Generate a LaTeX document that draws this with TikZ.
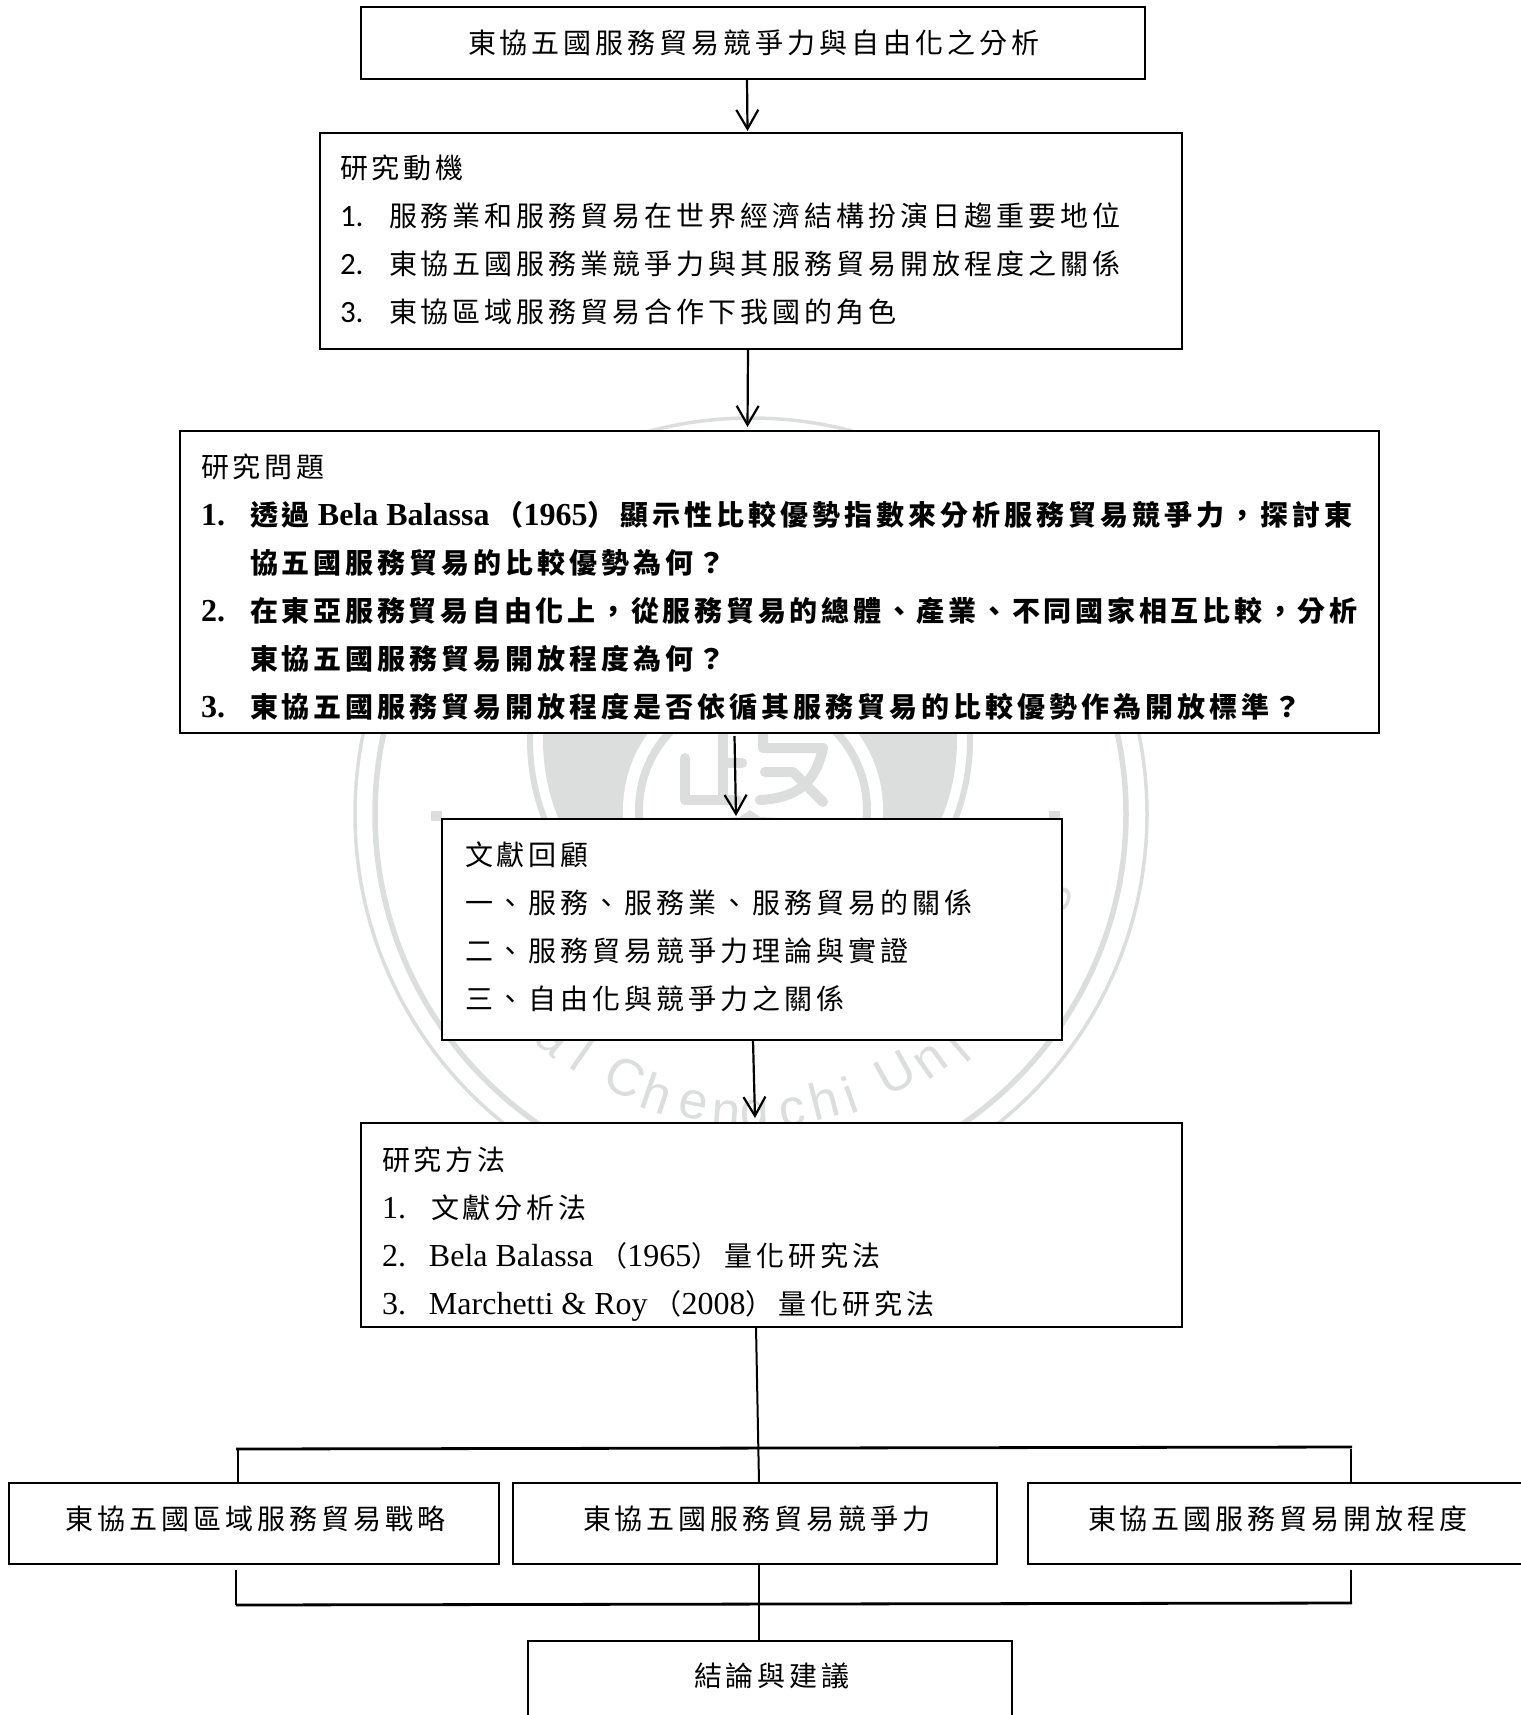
\documentclass[tikz,border=0pt]{standalone}
\usepackage{fontspec}
\usetikzlibrary{arrows.meta}
\setmainfont{Liberation Serif}
\newfontfamily\cjk[LetterSpace=14.2]{Noto Sans CJK TC}
\newfontfamily\cjkt[LetterSpace=13.4]{Noto Sans CJK TC}
\newfontfamily\car{Carlito}
\newfontfamily\wmf{Liberation Sans}
\def\cj#1{{\fontsize{28}{48}\cjk #1}}
\def\ct#1{{\fontsize{28}{48}\cjkt #1}}
\def\lp{\makebox[34pt][r]{\cj{（}}}
\def\rp{\makebox[33pt][l]{\cj{）}}}
\def\nm#1{\makebox[49pt][l]{#1}}
\def\nn#1{\makebox[47pt][l]{#1}}
\def\nc#1{\makebox[49pt][l]{\car\fontsize{31}{48}\selectfont #1}}
\newlength\bw \newlength\bl
\def\Ln#1{\hbox to\bw{\hskip\bl\rule[-15pt]{0pt}{48pt}#1\hss}}
\newcommand\boxbody[5]{\vbox to #2pt{\offinterlineskip\bw=#1pt\bl=#4pt\hsize=#1pt\kern#3pt #5\vss}}
\definecolor{wmgrey}{HTML}{DCDDDD}
\tikzset{
  box/.style={draw=black,fill=white,line width=1.5pt,inner sep=0pt,outer sep=0pt,anchor=north west,
    font=\fontsize{32}{48}\selectfont},
  arrowline/.style={line width=2.2pt,-{Straight Barb[length=19pt,width=22pt,line width=2.2pt]}},
  plainline/.style={line width=2pt},
  busline/.style={line width=2.8pt},
  wmstroke/.style={draw=wmgrey,line width=10pt,line cap=round,line join=round},
  wmtext/.style={text=wmgrey,inner sep=0pt,font=\wmf\fontsize{52}{52}\selectfont}
}
\begin{document}
\begin{tikzpicture}[x=1pt,y=-1pt]
\useasboundingbox (0,0) rectangle (1520,1715);
\fill[white] (0,0) rectangle (1520,1715);
% watermark
\draw[wmgrey,line width=3.5pt] (751,814) circle[radius=396];
\draw[wmgrey,line width=5.5pt] (750.5,814) circle[radius=375.5];
\draw[wmgrey,line width=6pt] (750,740) circle[radius=220];
\fill[wmgrey] (750,740) circle[radius=207];
\fill[white] (753,810) circle[radius=130];
\draw[wmgrey,line width=8pt] (753,810) circle[radius=114];
\draw[wmstroke] (685,758) -- (685,800) -- (737,800);
\draw[wmstroke] (723,725) -- (723,800);
\draw[wmstroke] (723,763) -- (742,763);
\draw[wmstroke] (763,725) -- (763,748) -- (823,748) .. controls (815,785) and (795,798) .. (760,800);
\draw[wmstroke] (765,772) -- (793,772) -- (823,802);
\fill[wmgrey] (683,820) -- (740,817) -- (750,810) -- (760,817) -- (823,820) -- cycle;
\fill[wmgrey] (431,811) rectangle (442,821);
\fill[wmgrey] (1049,811) rectangle (1060,821);
\foreach \ch/\x/\y [count=\k] in {a/552/1040,l/583/1054,C/625/1077,h/657/1093,e/693/1105,n/726/1115,g/755/1120,c/792/1112,h/824/1100,i/850/1095,U/895/1073,n/931/1062,i/957/1047,s/1057/897}{
  \pgfmathsetmacro\r{atan((\x-751)/(\y-814))}
  \node[wmtext,rotate=\r] (wm\k) at (\x,\y) {\ch};
}
% boxes
\node[box] (title) at (361,7) {\boxbody{784}{72}{14}{107}{\Ln{\cj{東協五國服務貿易競爭力與自由化之分析}}}};
\node[box] (motive) at (320,133) {\boxbody{862}{216}{12}{20}{
  \Ln{\cj{研究動機}}
  \Ln{\nc{1.}\cj{服務業和服務貿易在世界經濟結構扮演日趨重要地位}}
  \Ln{\nc{2.}\cj{東協五國服務業競爭力與其服務貿易開放程度之關係}}
  \Ln{\nc{3.}\cj{東協區域服務貿易合作下我國的角色}}}};
\node[box] (question) at (180,431) {\boxbody{1199}{302}{13}{21}{
  \Ln{\cj{研究問題}}
  \bfseries
  \Ln{\nm{1.}\cj{透過} Bela Balassa\lp 1965\rp\cj{顯示性比較優勢指數來分析服務貿易競爭力，探討東}}
  \Ln{\nm{}\cj{協五國服務貿易的比較優勢為何？}}
  \Ln{\nm{2.}\ct{在東亞服務貿易自由化上，從服務貿易的總體、產業、不同國家相互比較，分析}}
  \Ln{\nm{}\cj{東協五國服務貿易開放程度為何？}}
  \Ln{\nm{3.}\cj{東協五國服務貿易開放程度是否依循其服務貿易的比較優勢作為開放標準？}}}};
\node[box] (review) at (442,819) {\boxbody{620}{221}{13}{23}{
  \Ln{\cj{文獻回顧}}
  \Ln{\cj{一、服務、服務業、服務貿易的關係}}
  \Ln{\cj{二、服務貿易競爭力理論與實證}}
  \Ln{\cj{三、自由化與競爭力之關係}}}};
\node[box] (method) at (361,1123) {\boxbody{821}{204}{14}{21}{
  \Ln{\cj{研究方法}}
  \Ln{\nm{1.}\cj{文獻分析法}}
  \Ln{\nn{2.}Bela Balassa\lp 1965\rp\cj{量化研究法}}
  \Ln{\nn{3.}Marchetti \& Roy\lp 2008\rp\cj{量化研究法}}}};
\node[box] (strategy) at (9,1483) {\boxbody{490}{81}{13}{57}{\Ln{\cj{東協五國區域服務貿易戰略}}}};
\node[box] (compete) at (513,1483) {\boxbody{484}{81}{13}{70}{\Ln{\cj{東協五國服務貿易競爭力}}}};
\node[box] (openness) at (1028,1483) {\boxbody{500}{81}{13}{60}{\Ln{\cj{東協五國服務貿易開放程度}}}};
\node[box] (concl) at (528,1641) {\boxbody{484}{90}{12}{166}{\Ln{\cj{結論與建議}}}};
% connectors
\draw[arrowline] ([xshift=-6pt]title.south) -- ([xshift=-3.5pt,yshift=2pt]motive.north);
\draw[arrowline] ([xshift=-3pt]motive.south) -- ([xshift=-32pt,yshift=4pt]question.north);
\draw[arrowline] ([xshift=-45pt,yshift=-3pt]question.south) -- ([xshift=-16pt,yshift=3pt]review.north);
\draw[arrowline] ([xshift=1pt]review.south) -- ([xshift=-16.5pt,yshift=5pt]method.north);
\draw[plainline] ([xshift=-15.5pt]method.south) -- ([xshift=4pt]compete.north);
\coordinate (topL) at (236,1449);
\coordinate (topR) at (1352,1447);
\coordinate (lowL) at (236,1605);
\coordinate (lowR) at (1352,1603);
\coordinate (stubL) at (236,1570);
\coordinate (stubR) at (1351,1570);
\draw[busline] (topL) -- (topR);
\draw[plainline] (topL) ++(1.5,0) coordinate (dropL) -- (dropL |- strategy.north);
\draw[plainline] (topR) ++(-1,2) coordinate (dropR) -- (dropR |- openness.north);
\draw[plainline] (stubL) -- (lowL);
\draw[plainline] (stubR) -- (stubR |- lowR);
\draw[busline] (lowL) -- (lowR);
\draw[plainline] ([xshift=4pt]compete.south) -- ([xshift=-11pt]concl.north);
\end{tikzpicture}
\end{document}
